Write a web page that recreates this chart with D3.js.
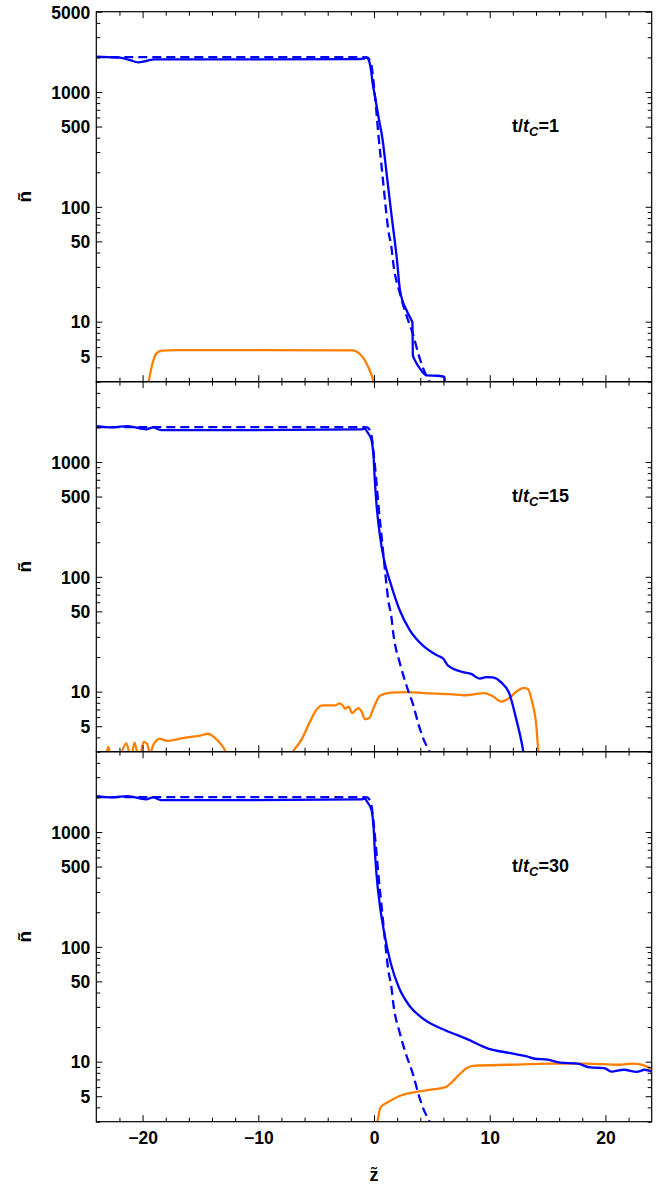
<!DOCTYPE html>
<html><head><meta charset="utf-8">
<script src="https://cdn.jsdelivr.net/npm/d3@7"></script>
<style>
body{margin:0;background:#fff}
text{font-family:"Liberation Sans",Arial,sans-serif;font-weight:bold;fill:#000}
</style>
</head><body>
<svg id="chart" width="665" height="1186"></svg>
<script>
// ---------- data ----------
const zDomain = [-24, 24];
const nDomain = [3, 5000];
const panelTimes = ["1", "15", "30"];
const yTickLabels = [5000, 1000, 500, 100, 50, 10, 5];
const yMinorTicks = [3, 4, 6, 7, 8, 9, 20, 30, 40, 60, 70, 80, 90, 200, 300, 400, 600, 700, 800, 900, 2000, 3000, 4000];
const xTickLabels = [-20, -10, 0, 10, 20];
const xMinorTicks = [-22, -18, -16, -14, -12, -8, -6, -4, -2, 2, 4, 6, 8, 12, 14, 16, 18, 22];

// initial profile (dashed), same in every panel
const initialProfile = [[-24,2010],[-1,2010],[-0.6,2000],[-0.45,1950],[-0.2,1658],[0,1109],[0.17,743],[0.37,435],[0.66,223],[0.95,114],[1.24,62],[1.5,45],[1.67,32],[2.25,17.5],[2.82,11.2],[3.4,7.6],[3.83,5.26],[4.26,3.9],[4.8,3.0],[5.0,2.7]];

const blue1 = [[-24,2030],[-23,2010],[-22,1990],[-21,1880],[-20.4,1811],[-19.6,1870],[-19,1920],[-10,1920],[-1.5,1930],[-0.9,1950],[-0.65,1990],[-0.49,1930],[-0.26,1552],[-0.11,1180],[0.1,900],[0.37,620],[0.75,380],[1.09,195],[1.53,82],[1.96,36.5],[2.25,18.7],[2.82,12.5],[3.26,10.2],[3.32,9.9],[3.36,5.1],[3.54,4.6],[3.98,3.89],[4.55,3.4],[5.5,3.38],[6.1,3.3],[6.16,2.5]];
const orange1 = [[-19.6,2.6],[-19.45,3.1],[-19.15,4.3],[-18.8,5.3],[-18.3,5.6],[-17,5.65],[-10,5.65],[-1.8,5.62],[-1.21,5.2],[-0.78,4.6],[-0.49,4.0],[-0.29,3.6],[-0.06,3.05],[0.05,2.7]];

const blue2 = [[-24,2055],[-22.6,2001],[-21.3,2055],[-19.7,1922],[-19.1,2001],[-18.4,1896],[-10.3,1896],[-1.14,1922],[-0.78,1950],[-0.6,1834],[-0.22,1551],[-0.04,1110],[0.07,695],[0.21,435],[0.51,230],[0.87,140],[1.43,88],[2.16,53],[3.08,34.5],[4.36,24.5],[5.46,20.7],[6.0,19.3],[6.2,18],[6.38,16.9],[7.67,14.8],[8.4,14.3],[9.13,13.0],[9.7,13.4],[10.24,13.3],[10.97,12.1],[11.7,9.6],[12.25,6.0],[12.87,3.14],[13.0,2.6]];
const orange2 = [[-23.2,2.6],[-22.96,3.3],[-22.7,2.6],[-22.2,2.5],[-21.4,3.55],[-21.0,2.6],[-20.7,3.6],[-20.3,2.6],[-19.9,3.65],[-19.6,3.5],[-19.36,2.9],[-19.07,3.45],[-18.8,3.75],[-18.5,3.9],[-18.2,3.8],[-17.8,3.72],[-17,3.85],[-16.2,4.0],[-15,4.15],[-14.35,4.3],[-13.8,4.0],[-13.2,3.45],[-12.9,3.1],[-12.7,2.6],
  [-12.6,null],
  [-7.3,2.6],[-7.0,3.0],[-6.3,3.76],[-5.55,5.43],[-5.0,6.9],[-4.44,7.6],[-3.35,7.6],[-2.97,7.9],[-2.67,7.5],[-2.5,7.1],[-2.2,7.4],[-1.88,6.5],[-1.6,6.9],[-1.33,7.2],[-1.07,6.7],[-0.78,5.75],[-0.41,5.9],[-0.04,7.2],[0.51,9.2],[1.43,9.8],[2.9,9.9],[4.36,9.7],[6.56,9.5],[8.0,9.3],[9.5,9.7],[10.2,9.2],[11.0,8.2],[11.7,8.8],[12.4,10.2],[13.0,10.8],[13.3,10.5],[13.7,7.9],[14.0,5.4],[14.2,3.1],[14.3,2.6]];

const blue3 = [[-24,2055],[-22.6,2001],[-21.3,2055],[-19.7,1922],[-19.1,2001],[-18.4,1896],[-10.3,1896],[-1.14,1922],[-0.78,1950],[-0.6,1834],[-0.22,1551],[-0.04,1110],[0.07,695],[0.21,435],[0.51,228],[0.87,135],[1.43,73],[2.16,44],[3.08,30.5],[4.36,23.2],[6.2,18.7],[8.0,15.8],[9.86,13.0],[11.7,11.9],[13.2,11.1],[13.9,10.6],[15.0,10.4],[16.1,9.8],[17.6,9.6],[18.7,8.9],[19.9,8.8],[20.5,8.2],[21.6,8.5],[22.7,8.15],[23.4,8.5],[24,8.2]];
const orange3 = [[0.2,2.7],[0.33,3.14],[0.56,4.0],[1.23,4.45],[2.16,5.0],[3.56,5.43],[4.9,5.7],[6.2,6.0],[6.5,6.3],[7.3,7.6],[8.03,8.8],[8.58,9.2],[11.7,9.4],[15.4,9.6],[18.3,9.6],[21.2,9.4],[22.3,9.6],[23.1,9.4],[24,8.6]];

const bluePanels = [blue1, blue2, blue3];
const orangePanels = [orange1, orange2, orange3];

// ---------- layout ----------
const svg = d3.select("#chart");
const left = 96.3, right = 651.7, panelH = 370;
const panelTops = [11.7, 381.7, 751.7];
const x = d3.scaleLinear().domain(zDomain).range([left, right]);
const BLUE = "#0000ff", ORANGE = "#ff8000";

panelTops.forEach((top, i) => {
  const y = d3.scaleLog().domain(nDomain).range([top + panelH, top]);
  const g = svg.append("g");
  const clipId = "clip" + i;
  svg.append("clipPath").attr("id", clipId).append("rect")
    .attr("x", left).attr("y", top).attr("width", right - left).attr("height", panelH);

  const line = d3.line().defined(d => d[1] != null)
    .x(d => x(d[0])).y(d => y(d[1])).curve(d3.curveMonotoneX);

  const plot = g.append("g").attr("clip-path", `url(#${clipId})`);
  plot.append("path").datum(orangePanels[i]).attr("d", line)
    .attr("fill", "none").attr("stroke", ORANGE).attr("stroke-width", 2.3);
  plot.append("path").datum(initialProfile).attr("d", line)
    .attr("fill", "none").attr("stroke", BLUE).attr("stroke-width", 2.3).attr("stroke-dasharray", "9,5");
  plot.append("path").datum(bluePanels[i]).attr("d", line)
    .attr("fill", "none").attr("stroke", BLUE).attr("stroke-width", 2.3);

  // axes
  const labels = i === 0 ? yTickLabels : yTickLabels.filter(v => v !== 5000);
  const styleAxis = sel => { sel.select(".domain").remove(); sel.selectAll("line").attr("stroke", "#000").attr("stroke-width", 1); sel.selectAll("text").style("font-size", "17.5px").attr("fill", "#000"); };

  g.append("g").attr("transform", `translate(${left},0)`)
    .call(d3.axisLeft(y).tickValues(labels).tickFormat(d3.format("d")).tickSizeInner(-6).tickSizeOuter(0).tickPadding(6))
    .call(styleAxis).call(s => s.selectAll("text").attr("dy", "0.36em"));
  g.append("g").attr("transform", `translate(${left},0)`)
    .call(d3.axisLeft(y).tickValues(yMinorTicks).tickFormat("").tickSizeInner(-4).tickSizeOuter(0))
    .call(styleAxis);
  g.append("g").attr("transform", `translate(${right},0)`)
    .call(d3.axisRight(y).tickValues(labels).tickFormat("").tickSizeInner(-6).tickSizeOuter(0))
    .call(styleAxis);
  g.append("g").attr("transform", `translate(${right},0)`)
    .call(d3.axisRight(y).tickValues(yMinorTicks).tickFormat("").tickSizeInner(-4).tickSizeOuter(0))
    .call(styleAxis);

  // top
  g.append("g").attr("transform", `translate(0,${top})`)
    .call(d3.axisTop(x).tickValues(xTickLabels).tickFormat("").tickSizeInner(-6.5).tickSizeOuter(0)).call(styleAxis);
  g.append("g").attr("transform", `translate(0,${top})`)
    .call(d3.axisTop(x).tickValues(xMinorTicks).tickFormat("").tickSizeInner(-4).tickSizeOuter(0)).call(styleAxis);
  // bottom
  g.append("g").attr("transform", `translate(0,${top + panelH})`)
    .call(d3.axisBottom(x).tickValues(xTickLabels)
      .tickFormat(i === 2 ? (d => (d < 0 ? "\u2212" + Math.abs(d) : String(d))) : "")
      .tickSizeInner(-6.5).tickSizeOuter(0).tickPadding(10)).call(styleAxis);
  g.append("g").attr("transform", `translate(0,${top + panelH})`)
    .call(d3.axisBottom(x).tickValues(xMinorTicks).tickFormat("").tickSizeInner(-4).tickSizeOuter(0)).call(styleAxis);

  // frame
  g.append("rect").attr("x", left).attr("y", top).attr("width", right - left).attr("height", panelH)
    .attr("fill", "none").attr("stroke", "#000").attr("stroke-width", 1.2);

  // y label
  g.append("text").attr("transform", `translate(31,${top + 185}) rotate(-90)`)
    .attr("text-anchor", "middle").style("font-size", "19px").text("\u00f1");

  // annotation
  const ann = g.append("text").attr("x", 512).attr("y", top + 120).style("font-size", "18px");
  ann.append("tspan").text("t/");
  ann.append("tspan").style("font-style", "italic").text("t");
  ann.append("tspan").style("font-style", "italic").style("font-size", "13px").attr("dy", 4).text("C");
  ann.append("tspan").attr("dy", -4).text("=" + panelTimes[i]);
});

svg.append("text").attr("x", x(0)).attr("y", 1181).attr("text-anchor", "middle")
  .style("font-size", "18px").text("z\u0303");
</script>
</body></html>
